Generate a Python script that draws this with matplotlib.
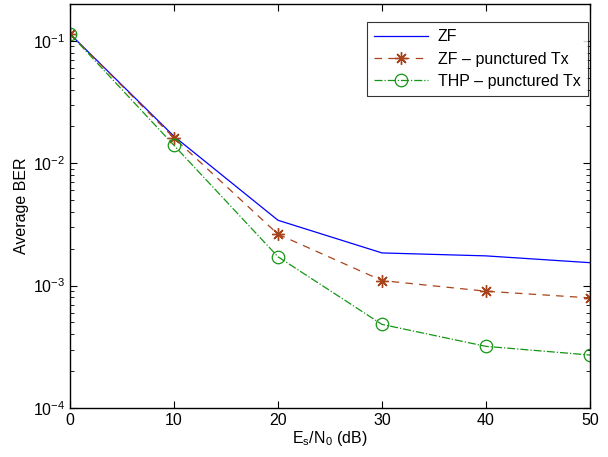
import matplotlib
matplotlib.use("Agg")
import matplotlib.pyplot as plt
from matplotlib.ticker import LogLocator, NullFormatter

plt.rcParams["font.family"] = ["Liberation Sans", "DejaVu Sans"]
plt.rcParams["mathtext.fontset"] = "custom"
plt.rcParams["mathtext.rm"] = "Liberation Sans"
plt.rcParams["mathtext.it"] = "Liberation Sans"

snr_db = [0, 10, 20, 30, 40, 50]
ber_zf = [0.114, 0.0166, 0.00342, 0.00185, 0.00175, 0.00154]
ber_zf_punct = [0.114, 0.0161, 0.00263, 0.00110, 0.00090, 0.000794]
ber_thp_punct = [0.114, 0.0140, 0.00172, 0.000482, 0.000319, 0.000271]

fig = plt.figure(figsize=(6.08, 4.57), dpi=100)
ax = fig.add_axes([0.1151, 0.1072, 0.8553, 0.884])

ax.semilogy(snr_db, ber_zf, "-", color="#0000FF", lw=0.9, label="ZF")
ax.semilogy(snr_db, ber_zf_punct, "--", color="#A8441C", lw=0.9,
            marker=(8, 2, 0), markersize=9, markeredgewidth=1.0,
            label="ZF \u2013 punctured Tx", dashes=(6, 5))
ax.semilogy(snr_db, ber_thp_punct, "-.", color="#149614", lw=0.9,
            marker="o", markersize=9, markerfacecolor="none",
            markeredgewidth=0.9, label="THP \u2013 punctured Tx")

ax.set_xlim(0, 50)
ax.set_ylim(1e-4, 0.2)
ax.set_xticks([0, 10, 20, 30, 40, 50])
ax.yaxis.set_major_locator(LogLocator(base=10, numticks=10))
ax.yaxis.set_minor_locator(LogLocator(base=10, subs=range(2, 10), numticks=20))
ax.yaxis.set_minor_formatter(NullFormatter())
ax.tick_params(which="both", direction="in", top=True, right=True, labelsize=11.5)
ax.tick_params(which="major", length=5, width=0.8)
ax.tick_params(which="minor", length=3, width=0.6)
for spine in ax.spines.values():
    spine.set_linewidth(1.0)

ax.set_xlabel(r"E$_\mathregular{s}$/N$_\mathregular{0}$ (dB)", fontsize=11.5, labelpad=1)
ax.set_ylabel("Average BER", fontsize=11.5, labelpad=3)

leg = ax.legend(loc="upper right", bbox_to_anchor=(0.996, 0.955), fontsize=11.5,
                frameon=True, fancybox=False, edgecolor="black", handlelength=3.4,
                borderpad=0.45, labelspacing=0.45, borderaxespad=0, handletextpad=0.6)
leg.get_frame().set_linewidth(0.8)

fig.savefig("out.png", dpi=100, facecolor="white")
